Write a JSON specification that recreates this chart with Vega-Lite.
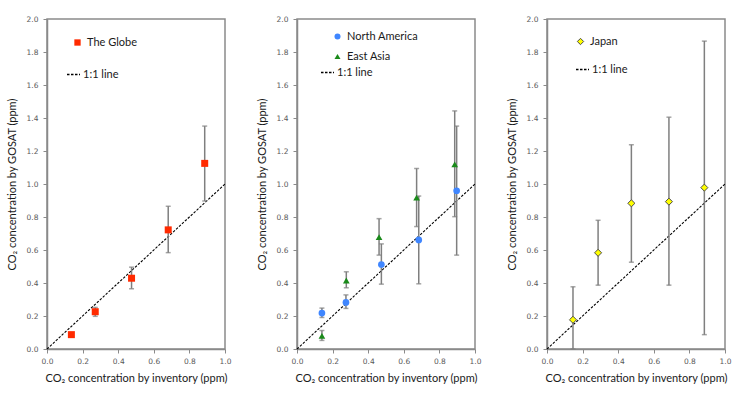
{
  "$schema": "https://vega.github.io/schema/vega-lite/v6.json",
  "padding": {"left": 5, "top": 14, "right": 5, "bottom": 5},
  "background": "white",
  "datasets": {
    "globe": [
      {"series": "The Globe", "x": 0.137, "y": 0.087, "lo": 0.077, "hi": 0.097},
      {"series": "The Globe", "x": 0.271, "y": 0.226, "lo": 0.198, "hi": 0.252},
      {"series": "The Globe", "x": 0.475, "y": 0.429, "lo": 0.365, "hi": 0.496},
      {"series": "The Globe", "x": 0.681, "y": 0.722, "lo": 0.584, "hi": 0.865},
      {"series": "The Globe", "x": 0.886, "y": 1.125, "lo": 0.897, "hi": 1.351}
    ],
    "regions": [
      {"series": "North America", "x": 0.14, "y": 0.218, "lo": 0.191, "hi": 0.248},
      {"series": "North America", "x": 0.275, "y": 0.282, "lo": 0.246, "hi": 0.328},
      {"series": "North America", "x": 0.474, "y": 0.512, "lo": 0.393, "hi": 0.637},
      {"series": "North America", "x": 0.684, "y": 0.661, "lo": 0.395, "hi": 0.927},
      {"series": "North America", "x": 0.897, "y": 0.959, "lo": 0.569, "hi": 1.351},
      {"series": "East Asia", "x": 0.14, "y": 0.08, "lo": 0.052, "hi": 0.112},
      {"series": "East Asia", "x": 0.277, "y": 0.415, "lo": 0.371, "hi": 0.468},
      {"series": "East Asia", "x": 0.461, "y": 0.678, "lo": 0.569, "hi": 0.79},
      {"series": "East Asia", "x": 0.672, "y": 0.917, "lo": 0.742, "hi": 1.094},
      {"series": "East Asia", "x": 0.886, "y": 1.119, "lo": 0.802, "hi": 1.443}
    ],
    "japan": [
      {"series": "Japan", "x": 0.146, "y": 0.177, "lo": 0.0, "hi": 0.377},
      {"series": "Japan", "x": 0.287, "y": 0.583, "lo": 0.387, "hi": 0.78},
      {"series": "Japan", "x": 0.474, "y": 0.883, "lo": 0.526, "hi": 1.238},
      {"series": "Japan", "x": 0.685, "y": 0.893, "lo": 0.387, "hi": 1.405},
      {"series": "Japan", "x": 0.884, "y": 0.978, "lo": 0.087, "hi": 1.866}
    ],
    "oneone": [
      {"series": "1:1 line", "x": 0, "y": 0},
      {"series": "1:1 line", "x": 1, "y": 1}
    ]
  },
  "spacing": 72,
  "bounds": "flush",
  "resolve": {"scale": {"color": "independent", "shape": "independent", "strokeDash": "independent"}},
  "hconcat": [
    {
      "width": 178, "height": 330,
      "layer": [
        {
          "data": {"name": "oneone"},
          "mark": {"type": "line", "color": "black", "strokeWidth": 1.1},
          "encoding": {
            "x": {"field": "x", "type": "quantitative", "scale": {"domain": [0, 1], "nice": false}, "title": "CO₂ concentration by inventory (ppm)"},
            "y": {"field": "y", "type": "quantitative", "scale": {"domain": [0, 2], "nice": false}, "title": "CO₂ concentration by GOSAT (ppm)"},
            "strokeDash": {"field": "series", "type": "nominal", "scale": {"range": [[2.5, 1.5]]},
              "legend": {"orient": "none", "legendX": 19, "legendY": 48, "symbolSize": 169, "labelOffset": 2}}
          }
        },
        {
          "data": {"name": "globe"},
          "mark": {"type": "errorbar", "color": "#7f7f7f", "thickness": 1.5, "size": 5, "ticks": true},
          "encoding": {
            "x": {"field": "x", "type": "quantitative", "title": "CO₂ concentration by inventory (ppm)"},
            "y": {"field": "lo", "type": "quantitative", "title": "CO₂ concentration by GOSAT (ppm)"},
            "y2": {"field": "hi"}
          }
        },
        {
          "data": {"name": "globe"},
          "mark": {"type": "point", "filled": true, "opacity": 1, "size": 49},
          "encoding": {
            "x": {"field": "x", "type": "quantitative", "title": "CO₂ concentration by inventory (ppm)"},
            "y": {"field": "y", "type": "quantitative", "title": "CO₂ concentration by GOSAT (ppm)"},
            "color": {"field": "series", "type": "nominal", "scale": {"range": ["#ff2a00"]},
              "legend": {"orient": "none", "legendX": 25, "legendY": 18, "labelOffset": 4, "symbolSize": 40}},
            "shape": {"field": "series", "type": "nominal", "scale": {"range": ["square"]}}
          }
        }
      ]
    },
    {
      "width": 178, "height": 330,
      "layer": [
        {
          "data": {"name": "oneone"},
          "mark": {"type": "line", "color": "black", "strokeWidth": 1.1},
          "encoding": {
            "x": {"field": "x", "type": "quantitative", "scale": {"domain": [0, 1], "nice": false}, "title": "CO₂ concentration by inventory (ppm)"},
            "y": {"field": "y", "type": "quantitative", "scale": {"domain": [0, 2], "nice": false}, "title": "CO₂ concentration by GOSAT (ppm)"},
            "strokeDash": {"field": "series", "type": "nominal", "scale": {"range": [[2.5, 1.5]]},
              "legend": {"orient": "none", "legendX": 23, "legendY": 46, "symbolSize": 169, "labelOffset": 2}}
          }
        },
        {
          "data": {"name": "regions"},
          "mark": {"type": "errorbar", "color": "#7f7f7f", "thickness": 1.5, "size": 5, "ticks": true},
          "encoding": {
            "x": {"field": "x", "type": "quantitative", "title": "CO₂ concentration by inventory (ppm)"},
            "y": {"field": "lo", "type": "quantitative", "title": "CO₂ concentration by GOSAT (ppm)"},
            "y2": {"field": "hi"},
            "detail": {"field": "series"}
          }
        },
        {
          "data": {"name": "regions"},
          "mark": {"type": "point", "filled": true, "opacity": 1, "size": 45},
          "encoding": {
            "x": {"field": "x", "type": "quantitative", "title": "CO₂ concentration by inventory (ppm)"},
            "y": {"field": "y", "type": "quantitative", "title": "CO₂ concentration by GOSAT (ppm)"},
            "color": {"field": "series", "type": "nominal",
              "scale": {"domain": ["North America", "East Asia"], "range": ["#3f86ff", "#1a8a1a"]},
              "legend": {"orient": "none", "legendX": 35, "legendY": 12, "labelOffset": 4, "rowPadding": 8, "symbolSize": 36}},
            "shape": {"field": "series", "type": "nominal",
              "scale": {"domain": ["North America", "East Asia"], "range": ["circle", "triangle-up"]}}
          }
        }
      ]
    },
    {
      "width": 178, "height": 330,
      "layer": [
        {
          "data": {"name": "oneone"},
          "mark": {"type": "line", "color": "black", "strokeWidth": 1.1},
          "encoding": {
            "x": {"field": "x", "type": "quantitative", "scale": {"domain": [0, 1], "nice": false}, "title": "CO₂ concentration by inventory (ppm)"},
            "y": {"field": "y", "type": "quantitative", "scale": {"domain": [0, 2], "nice": false}, "title": "CO₂ concentration by GOSAT (ppm)"},
            "strokeDash": {"field": "series", "type": "nominal", "scale": {"range": [[2.5, 1.5]]},
              "legend": {"orient": "none", "legendX": 28, "legendY": 43, "symbolSize": 169, "labelOffset": 2}}
          }
        },
        {
          "data": {"name": "japan"},
          "mark": {"type": "errorbar", "color": "#7f7f7f", "thickness": 1.5, "size": 5, "ticks": true},
          "encoding": {
            "x": {"field": "x", "type": "quantitative", "title": "CO₂ concentration by inventory (ppm)"},
            "y": {"field": "lo", "type": "quantitative", "title": "CO₂ concentration by GOSAT (ppm)"},
            "y2": {"field": "hi"}
          }
        },
        {
          "data": {"name": "japan"},
          "mark": {"type": "point", "filled": true, "opacity": 1, "size": 50, "stroke": "#4d4d4d", "strokeWidth": 1},
          "encoding": {
            "x": {"field": "x", "type": "quantitative", "title": "CO₂ concentration by inventory (ppm)"},
            "y": {"field": "y", "type": "quantitative", "title": "CO₂ concentration by GOSAT (ppm)"},
            "color": {"field": "series", "type": "nominal", "scale": {"range": ["#ffff00"]},
              "legend": {"orient": "none", "legendX": 28, "legendY": 17, "labelOffset": 4, "symbolSize": 40, "symbolStrokeColor": "#4d4d4d", "symbolStrokeWidth": 1}},
            "shape": {"field": "series", "type": "nominal", "scale": {"range": ["diamond"]}}
          }
        }
      ]
    }
  ],
  "config": {
    "view": {"stroke": "#8a8a8a", "strokeWidth": 1.5},
    "axisX": {
      "values": [0, 0.2, 0.4, 0.6, 0.8, 1.0], "format": ".1f", "labelFlush": false,
      "grid": false, "domainColor": "#8a8a8a", "domainWidth": 1.5,
      "tickColor": "#8a8a8a", "tickSize": 4,
      "labelFont": "DejaVu Sans", "labelFontSize": 7.5, "labelColor": "#595959", "labelPadding": 4,
      "titleFont": "Lato", "titleFontSize": 11, "titleFontWeight": "normal", "titleColor": "#1a1a1a", "titlePadding": 8
    },
    "axisY": {
      "values": [0, 0.2, 0.4, 0.6, 0.8, 1.0, 1.2, 1.4, 1.6, 1.8, 2.0], "format": ".1f", "labelFlush": false,
      "grid": false, "domainColor": "#8a8a8a", "domainWidth": 1.5,
      "tickColor": "#8a8a8a", "tickSize": 4,
      "labelFont": "DejaVu Sans", "labelFontSize": 7.5, "labelColor": "#595959", "labelPadding": 5,
      "titleFont": "Lato", "titleFontSize": 11, "titleFontWeight": "normal", "titleColor": "#1a1a1a", "titlePadding": 9
    },
    "legend": {
      "title": null, "padding": 0,
      "labelFont": "Lato", "labelFontSize": 11, "labelColor": "#1a1a1a"
    }
  }
}
